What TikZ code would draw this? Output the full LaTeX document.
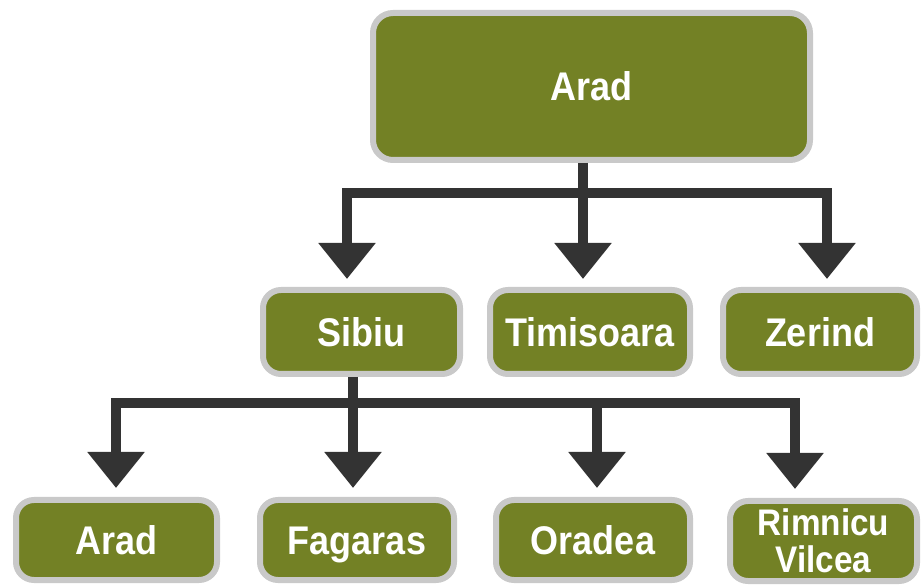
\documentclass[tikz,border=0pt]{standalone}
\usepackage{fontspec}
\setmainfont{Liberation Sans}[FakeStretch=0.9]
\usetikzlibrary{arrows.meta,calc}
\definecolor{boxgreen}{HTML}{738125}
\definecolor{boxgray}{HTML}{C9C9C9}
\definecolor{conncol}{HTML}{333333}
\tikzset{
  citybox/.style={draw=boxgray, line width=6pt, fill=boxgreen, rounded corners=18pt,
    text=white, font=\bfseries\fontsize{40}{36}\selectfont, inner sep=0pt,
    minimum height=80pt, anchor=center},
  oneline/.style={text height=29pt, text depth=0pt},
  conn/.style={draw=conncol, line width=10pt, line cap=butt, line join=miter},
  arr/.style={conn, -{Triangle[width=55pt,length=36pt]}}
}
\begin{document}
\begin{tikzpicture}[x=1pt,y=-1pt]
\useasboundingbox (0,0) rectangle (922,585);
% nodes
\node[citybox, oneline, minimum width=437pt, minimum height=147pt, rounded corners=20pt] (root) at (591.5,86.5) {Arad};
\node[citybox, oneline, minimum width=197pt, minimum height=84pt] (sibiu) at (361.5,332) {Sibiu};
\node[citybox, oneline, minimum width=200pt, minimum height=84pt] (timi) at (590,332) {Timisoara};
\node[citybox, oneline, minimum width=194pt, minimum height=84pt] (zerind) at (820,332) {Zerind};
\node[citybox, oneline, minimum width=201pt] (arad2) at (116.5,540) {Arad};
\node[citybox, oneline, minimum width=194pt] (fagaras) at (357,540) {Fagaras};
\node[citybox, oneline, minimum width=194pt] (oradea) at (593,540) {Oradea};
\node[citybox, minimum width=187pt, align=center, font=\bfseries\fontsize{37}{37}\selectfont] (rimnicu) at (823.5,541) {Rimnicu\\Vilcea};
% junctions
\coordinate (j1) at (583,193);
\coordinate (j1l) at (347,193);
\coordinate (j1r) at (827,193);
\coordinate (j2) at (353,403);
\coordinate (j2l) at (116,403);
\coordinate (j2m) at (597,403);
\coordinate (j2r) at (795,403);
% level 1 connectors
\draw[conn] (root.south -| j1) -- (j1);
\draw[arr] (j1) -- (j1l) -- ($(j1l |- sibiu.north)+(0,-8)$);
\draw[arr] (j1) -- ($(j1 |- timi.north)+(0,-8)$);
\draw[arr] (j1) -- (j1r) -- ($(j1r |- zerind.north)+(0,-8)$);
% level 2 connectors
\draw[conn] (sibiu.south -| j2) -- (j2);
\draw[arr] (j2) -- (j2l) -- ($(j2l |- arad2.north)+(0,-9)$);
\draw[arr] (j2) -- ($(j2 |- fagaras.north)+(0,-9)$);
\draw[conn] (j2) -- (j2m);
\draw[arr] (j2m) -- ($(j2m |- oradea.north)+(0,-9)$);
\draw[arr] (j2m) -- (j2r) -- ($(j2r |- rimnicu.north)+(0,-9)$);
\end{tikzpicture}
\end{document}
